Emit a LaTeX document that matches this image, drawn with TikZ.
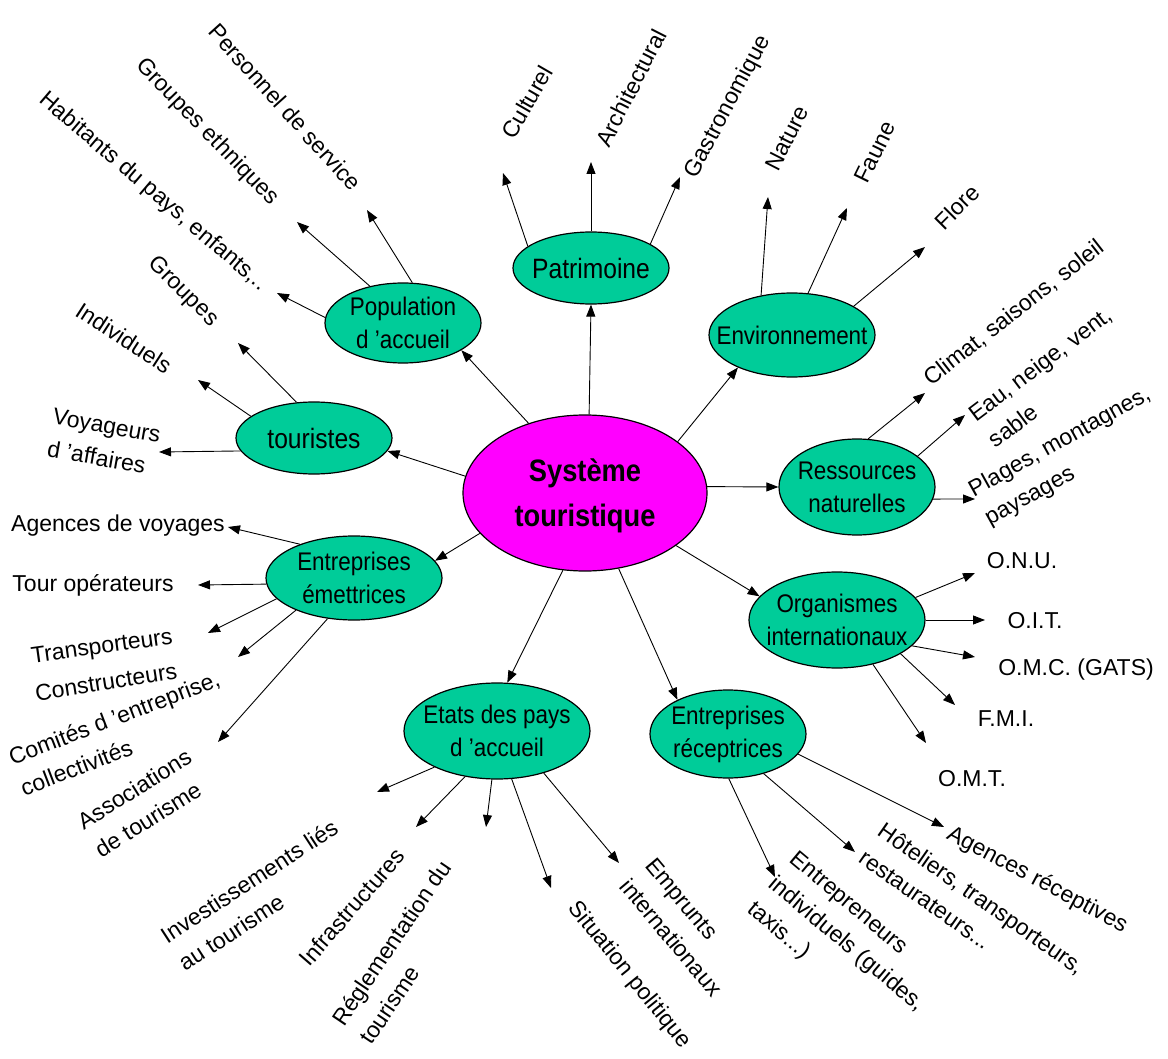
\documentclass[tikz,border=0pt]{standalone}
\usepackage{fontspec}
\setmainfont{Liberation Sans}
\newfontfamily\nodefont[FakeStretch=0.88]{Liberation Sans}
\usetikzlibrary{shapes.geometric,arrows.meta}
\definecolor{nodegreen}{HTML}{00CC99}
\definecolor{sysmag}{HTML}{FF00FF}
\tikzset{
  ell/.style={ellipse, draw=black, line width=1.2pt, fill=nodegreen, inner sep=0pt},
  etxt/.style={font=\nodefont\fontsize{25.5}{33}\selectfont, align=center, inner sep=0pt},
  lbl/.style={font=\fontsize{23}{33}\selectfont, inner sep=0pt},
  arr/.style={line width=0.9pt, -{Triangle[length=12pt,width=9pt]}},
}
\begin{document}
\begin{tikzpicture}[x=1pt,y=-1pt]
\fill[white] (0,0) rectangle (1168,1059);
\useasboundingbox (0,0) rectangle (1168,1059);

% ellipses
\node[ell, fill=sysmag, minimum width=244pt, minimum height=156pt] (sys) at (585,493) {};
\node[ell, minimum width=156pt, minimum height=72pt] (pat) at (591,268) {};
\node[ell, minimum width=166pt, minimum height=84pt] (env) at (792,335) {};
\node[ell, minimum width=156pt, minimum height=80pt] (pop) at (403,323) {};
\node[ell, minimum width=156pt, minimum height=72pt] (tou) at (314,438) {};
\node[ell, minimum width=156pt, minimum height=96pt] (res) at (857,487) {};
\node[ell, minimum width=176pt, minimum height=84pt] (eme) at (354,578) {};
\node[ell, minimum width=176pt, minimum height=96pt] (org) at (837,620) {};
\node[ell, minimum width=186pt, minimum height=96pt] (eta) at (497,731) {};
\node[ell, minimum width=156pt, minimum height=88pt] (rec) at (728,734) {};

% ellipse texts
\node[etxt, font=\nodefont\bfseries\fontsize{31}{45}\selectfont] (sys-t) at (585,496) {Système\\touristique};
\node[etxt, font=\nodefont\fontsize{28}{33}\selectfont] (pat-t) at (pat) {Patrimoine};
\node[etxt] (env-t) at (env) {Environnement};
\node[etxt] (pop-t) at (pop) {Population\\d ’accueil};
\node[etxt, font=\nodefont\fontsize{28}{33}\selectfont] (tou-t) at (tou) {touristes};
\node[etxt] (res-t) at (res) {Ressources\\naturelles};
\node[etxt] (eme-t) at (eme) {Entreprises\\émettrices};
\node[etxt] (org-t) at (org) {Organismes\\internationaux};
\node[etxt] (eta-t) at (eta) {Etats des pays\\d ’accueil};
\node[etxt] (rec-t) at (rec) {Entreprises\\réceptrices};

% free arrow ends
\coordinate (c-pers) at (367,210);
\coordinate (c-geth) at (297,222);
\coordinate (c-hab) at (277,293);
\coordinate (c-cult) at (503,173);
\coordinate (c-arch) at (591,162);
\coordinate (c-gast) at (680,177);
\coordinate (c-nat) at (768,197);
\coordinate (c-faune) at (847,208);
\coordinate (c-flore) at (925,247);
\coordinate (c-clim) at (925,393);
\coordinate (c-eau) at (965,415);
\coordinate (c-plag) at (975,499);
\coordinate (c-onu) at (975,573);
\coordinate (c-oit) at (985,620);
\coordinate (c-omc) at (975,657);
\coordinate (c-fmi) at (955,705);
\coordinate (c-omt) at (926,743);
\coordinate (c-entr) at (775,877);
\coordinate (c-hot) at (855,852);
\coordinate (c-agr) at (944,827);
\coordinate (c-inv) at (377,792);
\coordinate (c-infra) at (416,827);
\coordinate (c-regl) at (486,827);
\coordinate (c-sit) at (551,888);
\coordinate (c-emp) at (619,863);
\coordinate (c-grp) at (238,343);
\coordinate (c-ind) at (198,380);
\coordinate (c-voy) at (159,452);
\coordinate (c-agv) at (228,527);
\coordinate (c-tour) at (198,585);
\coordinate (c-trans) at (208,633);
\coordinate (c-cons) at (238,657);
\coordinate (c-asso) at (218,742);

% arrows from the centre
\draw[arr] (sys.129) -- (pop.-25);
\draw[arr] (sys.87) -- (pat.south);
\draw[arr] (sys.29) -- (env.211);
\draw[arr] (sys.3) -- (res.west);
\draw[arr] (sys.-30) -- (org.163);
\draw[arr] (sys.-66) -- (rec.146);
\draw[arr] (sys.-106) -- (eta.78);
\draw[arr] (sys.172) -- (tou.-10);
\draw[arr] (sys.201) -- (eme.12);

% outgoing arrows
\draw[arr] (pop.77) -- (c-pers);
\draw[arr] (pop.132) -- (c-geth);
\draw[arr] (pop.176) -- (c-hab);
\draw[arr] (pat.161) -- (c-cult);
\draw[arr] (pat.north) -- (c-arch);
\draw[arr] (pat.22) -- (c-gast);
\draw[arr] (env.128) -- (c-nat);
\draw[arr] (env.69) -- (c-faune);
\draw[arr] (env.25) -- (c-flore);
\draw[arr] (res.77) -- (c-clim);
\draw[arr] (res.27) -- (c-eau);
\draw[arr] (res.-9) -- (c-plag);
\draw[arr] (org.16) -- (c-onu);
\draw[arr] (org.east) -- (c-oit);
\draw[arr] (org.-19) -- (c-omc);
\draw[arr] (org.-28) -- (c-fmi);
\draw[arr] (org.-51) -- (c-omt);
\draw[arr] (rec.-89) -- (c-entr);
\draw[arr] (rec.-48) -- (c-hot);
\draw[arr] (rec.-16) -- (c-agr);
\draw[arr] (eta.210) -- (c-inv);
\draw[arr] (eta.235) -- (c-infra);
\draw[arr] (eta.264) -- (c-regl);
\draw[arr] (eta.287) -- (c-sit);
\draw[arr] (eta.318) -- (c-emp);
\draw[arr] (tou.116) -- (c-grp);
\draw[arr] (tou.161) -- (c-ind);
\draw[arr] (tou.190) -- (c-voy);
\draw[arr] (eme.148) -- (c-agv);
\draw[arr] (eme.184) -- (c-tour);
\draw[arr] (eme.195) -- (c-trans);
\draw[arr] (eme.209) -- (c-cons);
\draw[arr] (eme.237) -- (c-asso);

% labels
\node[lbl, rotate=-48] (l-pers) at (285,107) {Personnel de service};
\node[lbl, rotate=-46] (l-geth) at (207,132) {Groupes ethniques};
\node[lbl, rotate=-40.5] (l-hab) at (153,192) {Habitants du pays, enfants,..};
\node[lbl, rotate=-45] (l-grp) at (183,292) {Groupes};
\node[lbl, rotate=-33] (l-ind) at (124,338) {Individuels};
\node[lbl, rotate=-10, align=left] (l-voy) at (104,442) {Voyageurs\\d ’affaires};
\node[lbl] (l-agv) at (118,526) {Agences de voyages};
\node[lbl] (l-tour) at (93,585) {Tour opérateurs};
\node[lbl, rotate=8] (l-trans) at (102,648) {Transporteurs};
\node[lbl, rotate=9] (l-cons) at (106,682) {Constructeurs};
\node[lbl, rotate=21, align=left] (l-com) at (120,733) {Comités d ’entreprise,\\collectivités};
\node[lbl, rotate=32, align=left] (l-asso) at (143,803) {Associations\\de tourisme};
\node[lbl, rotate=33, align=left] (l-inv) at (258,895) {Investissements liés\\au tourisme};
\node[lbl, rotate=49] (l-infra) at (352,907) {Infrastructures};
\node[lbl, rotate=56, align=left] (l-regl) at (405,952) {Réglementation du\\tourisme};
\node[lbl, rotate=-51] (l-sit) at (629,975) {Situation politique};
\node[lbl, rotate=-50, align=left] (l-emp) at (684,927) {Emprunts\\internationaux};
\node[lbl, rotate=-40, align=left] (l-entr) at (846,945) {Entrepreneurs\\individuels (guides,\\taxis...)};
\node[lbl, rotate=-35, align=left] (l-hot) at (972,912) {Hôteliers, transporteurs,\\restaurateurs...};
\node[lbl, rotate=-28] (l-agr) at (1037,880) {Agences réceptives};
\node[lbl] (l-onu) at (1022,561) {O.N.U.};
\node[lbl] (l-oit) at (1035,621) {O.I.T.};
\node[lbl] (l-omc) at (1076,670) {O.M.C. (GATS)};
\node[lbl] (l-fmi) at (1006,719) {F.M.I.};
\node[lbl] (l-omt) at (972,779) {O.M.T.};
\node[lbl, rotate=60] (l-cult) at (527,102) {Culturel};
\node[lbl, rotate=63] (l-arch) at (631,88) {Architectural};
\node[lbl, rotate=62] (l-gast) at (728,107) {Gastronomique};
\node[lbl, rotate=63] (l-nat) at (787,138) {Nature};
\node[lbl, rotate=64] (l-faune) at (875,152) {Faune};
\node[lbl, rotate=45] (l-flore) at (957,207) {Flore};
\node[lbl, rotate=38] (l-clim) at (1014,313) {Climat, saisons, soleil};
\node[lbl, rotate=37, align=left] (l-eau) at (1050,377) {Eau, neige, vent,\\sable};
\node[lbl, rotate=29, align=left] (l-plag) at (1068,457) {Plages, montagnes,\\paysages};
\end{tikzpicture}
\end{document}
